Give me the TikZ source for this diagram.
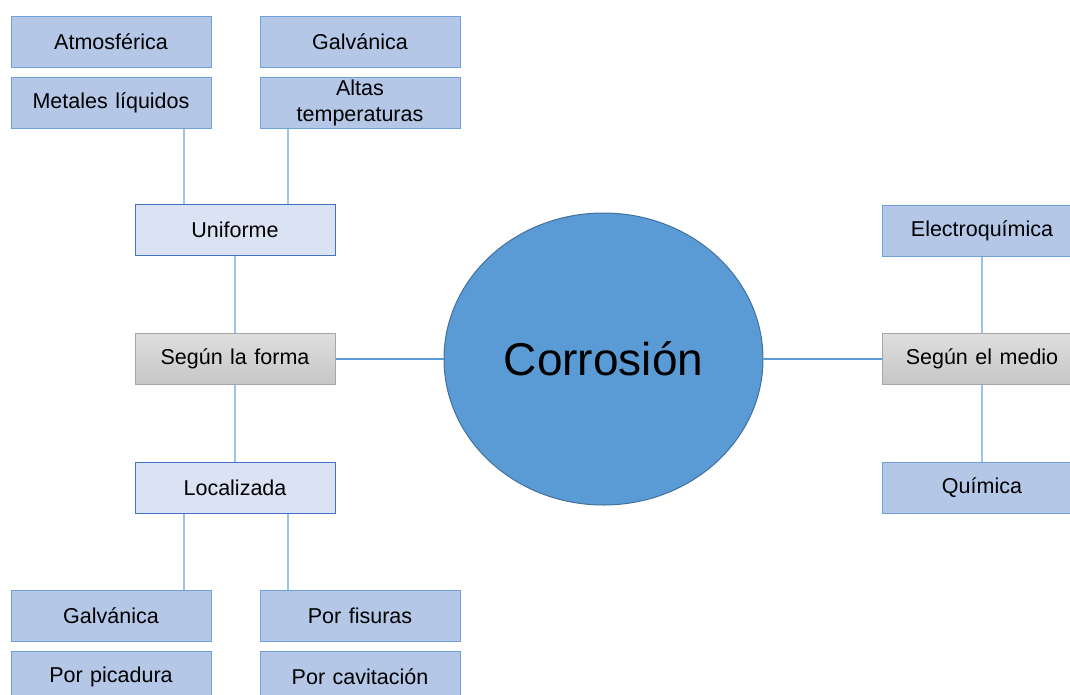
\documentclass[tikz,border=0pt]{standalone}
\usepackage{fontspec}
\setmainfont{Liberation Sans}
\usepackage{tikz}
\usetikzlibrary{shapes.geometric,positioning,calc}

\definecolor{leafFill}{HTML}{B4C7E7}
\definecolor{leafLine}{HTML}{6FA0DC}
\definecolor{subFill}{HTML}{DAE3F3}
\definecolor{subLine}{HTML}{4472C4}
\definecolor{grayTop}{HTML}{DEDEDE}
\definecolor{grayBot}{HTML}{C6C6C6}
\definecolor{grayLine}{HTML}{A6A6A6}
\definecolor{linkLight}{HTML}{9DC3E6}
\definecolor{linkDark}{HTML}{5B9BD5}
\definecolor{coreFill}{HTML}{5B9BD5}
\definecolor{coreLine}{HTML}{41719C}

\newcommand{\boxfont}{\fontsize{21.5}{26}\selectfont\fontdimen2\font=7.5pt}

\begin{document}
\begin{tikzpicture}[
  x=1pt,y=-1pt,
  node distance=9pt and 48pt,
  box/.style={draw,line width=1pt,minimum width=200pt,minimum height=51pt,
    inner sep=0pt,align=center,font=\boxfont},
  leaf/.style={box,fill=leafFill,draw=leafLine},
  sub/.style={box,fill=subFill,draw=subLine},
  group/.style={box,top color=grayTop,bottom color=grayBot,draw=grayLine},
  link/.style={draw=linkLight,line width=1.5pt},
  spoke/.style={draw=linkDark,line width=1.5pt},
]
  \useasboundingbox (0,0) rectangle (1070,694);
  \clip (0,0) rectangle (1070,694);

  \node[ellipse,draw=coreLine,fill=coreFill,line width=1pt,inner sep=0pt,
    minimum width=319pt,minimum height=292pt,
    font=\fontsize{46}{54}\selectfont] (corr) at (603.5,359) {Corrosión};

  \node[group] (forma) at (235,359) {Según la forma};
  \node[group] (medio) at (982,359) {Según el medio};

  \node[sub] (unif) at (235,230) {Uniforme};
  \node[sub] (loc) at (235,487.5) {Localizada};

  \node[leaf] (electro) at (982,231) {Electroquímica};
  \node[leaf] (quim) at (982,487.5) {Química};

  \node[leaf] (atmos) at (111,41.5) {Atmosférica};
  \node[leaf,below=of atmos] (metal) {Metales líquidos};
  \node[leaf,right=of atmos] (galvA) {Galvánica};
  \node[leaf,below=of galvA] (altas) {Altas\\temperaturas};

  \node[leaf] (galvB) at (111,615.5) {Galvánica};
  \node[leaf,below=of galvB] (picad) {Por picadura};
  \node[leaf,right=of galvB] (fisur) {Por fisuras};
  \node[leaf,below=of fisur] (cavit) {Por cavitación};

  \path[spoke] (forma) -- (corr);
  \path[spoke] (corr) -- (medio);

  \path[link] (unif) -- (forma);
  \path[link] (forma) -- (loc);
  \path[link] (electro) -- (medio);
  \path[link] (medio) -- (quim);

  \path[link] ([xshift=73pt]metal.south) -- ([xshift=73pt]metal.south |- unif.north);
  \path[link] ([xshift=-72pt]altas.south) -- ([xshift=-72pt]altas.south |- unif.north);
  \path[link] ([xshift=73pt]galvB.north) -- ([xshift=73pt]galvB.north |- loc.south);
  \path[link] ([xshift=-72pt]fisur.north) -- ([xshift=-72pt]fisur.north |- loc.south);
\end{tikzpicture}
\end{document}
